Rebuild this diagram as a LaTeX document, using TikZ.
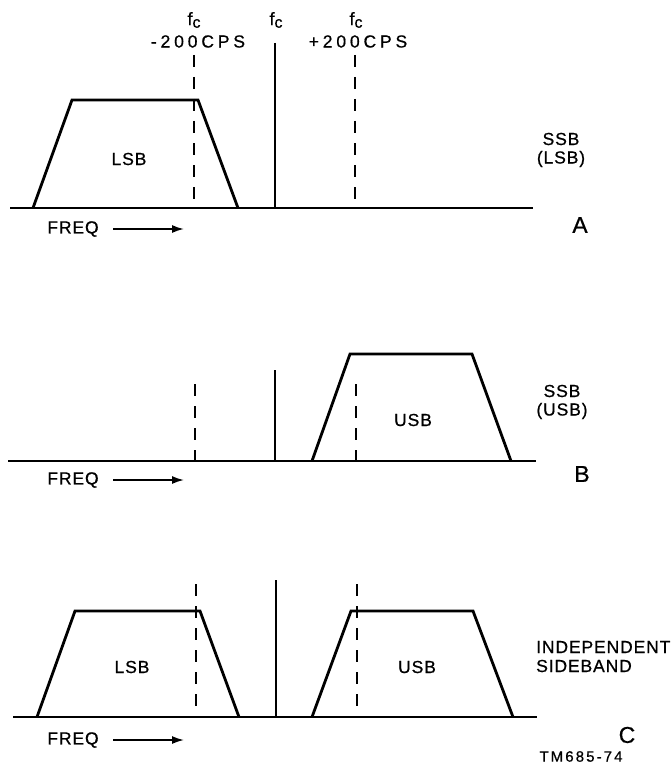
\documentclass[tikz,border=0pt]{standalone}
\usepackage{fontspec}
\setmainfont[LetterSpace=5,FakeBold=0.7]{Liberation Sans}
\newfontfamily\numfont[LetterSpace=22,FakeBold=0.7]{Liberation Sans}
\newfontfamily\tmfont[LetterSpace=14,FakeBold=0.6]{Liberation Sans}
\usetikzlibrary{arrows.meta}
\tikzset{
  axis/.style={line width=2.8pt},
  band/.style={line width=2.8pt, line join=miter},
  carrier/.style={line width=2.6pt},
  offset/.style={line width=2pt, dash pattern=on 12pt off 10pt},
  lbl/.style={font=\fontsize{17.5}{18}\selectfont, inner sep=0pt},
  numlbl/.style={font=\numfont\fontsize{17.5}{18}\selectfont, inner sep=0pt},
  tmlbl/.style={font=\tmfont\fontsize{15}{16}\selectfont, inner sep=0pt},
  panel/.style={font=\fontsize{23}{24}\selectfont, inner sep=0pt},
  freqarrow/.style={line width=1.7pt, -{Latex[length=12pt,width=8pt]}},
}
\newcommand{\fcl}{{\fontsize{18}{18}\selectfont f\raisebox{-2.5pt}{\fontsize{16}{16}\selectfont c}}}
\begin{document}
\begin{tikzpicture}[x=1pt,y=-1pt]
\useasboundingbox (0,0) rectangle (671,765);
% top labels
\node[lbl] (fl) at (194,20) {\fcl};
\node[lbl] (fm) at (276,20) {\fcl};
\node[lbl] (fr) at (356,20) {\fcl};
\node[numlbl] (ml) at (198,41.5) {-200CPS};
\node[numlbl] (pl) at (358,41.5) {+200CPS};

% ---- Panel A ----
\coordinate (a0) at (10,208); \coordinate (a1) at (533,208);
\draw[axis] (a0) -- (a1);
\coordinate (aL1) at (33,208); \coordinate (aL2) at (72,100);
\coordinate (aL3) at (198,100); \coordinate (aL4) at (238,208);
\draw[band] (aL1) -- (aL2) -- (aL3) -- (aL4);
\coordinate (ad1t) at (194,55); \coordinate (ad1b) at (194,208);
\coordinate (act) at (275,43); \coordinate (acb) at (275,208);
\coordinate (ad2t) at (355,55); \coordinate (ad2b) at (355,208);
\draw[offset] (ad1t) -- (ad1b);
\draw[carrier] (act) -- (acb);
\draw[offset] (ad2t) -- (ad2b);
\node[lbl] (alsb) at (129,159) {LSB};
\node[lbl] (assb1) at (561,139) {SSB};
\node[lbl] (assb2) at (561,159) {(LSB)};
\node[panel] (aA) at (580,225) {A};
\node[lbl] (afreq) at (73,229) {FREQ};
\coordinate (aas) at (113,229); \coordinate (aar) at (184,229);
\draw[freqarrow] (aas) -- (aar);

% ---- Panel B ----
\coordinate (b0) at (8,461); \coordinate (b1) at (536,461);
\draw[axis] (b0) -- (b1);
\coordinate (bU1) at (312,461); \coordinate (bU2) at (350,354);
\coordinate (bU3) at (472,354); \coordinate (bU4) at (511,461);
\draw[band] (bU1) -- (bU2) -- (bU3) -- (bU4);
\coordinate (bd1t) at (195,384); \coordinate (bd1b) at (195,461);
\coordinate (bct) at (275,370); \coordinate (bcb) at (275,461);
\coordinate (bd2t) at (356,384); \coordinate (bd2b) at (356,461);
\draw[offset] (bd1t) -- (bd1b);
\draw[carrier] (bct) -- (bcb);
\draw[offset] (bd2t) -- (bd2b);
\node[lbl] (busb) at (413,420) {USB};
\node[lbl] (bssb1) at (562,391) {SSB};
\node[lbl] (bssb2) at (562,411) {(USB)};
\node[panel] (bB) at (582,474) {B};
\node[lbl] (bfreq) at (73,480) {FREQ};
\coordinate (bas) at (113,480); \coordinate (bar) at (184,480);
\draw[freqarrow] (bas) -- (bar);

% ---- Panel C ----
\coordinate (c0) at (13,717); \coordinate (c1) at (537,717);
\draw[axis] (c0) -- (c1);
\coordinate (cL1) at (37,717); \coordinate (cL2) at (75,611);
\coordinate (cL3) at (200,611); \coordinate (cL4) at (239,717);
\draw[band] (cL1) -- (cL2) -- (cL3) -- (cL4);
\coordinate (cU1) at (312,717); \coordinate (cU2) at (351,611);
\coordinate (cU3) at (473,611); \coordinate (cU4) at (513,717);
\draw[band] (cU1) -- (cU2) -- (cU3) -- (cU4);
\coordinate (cd1t) at (196,584); \coordinate (cd1b) at (196,717);
\coordinate (cct) at (276,580); \coordinate (ccb) at (276,717);
\coordinate (cd2t) at (357,584); \coordinate (cd2b) at (357,717);
\draw[offset] (cd1t) -- (cd1b);
\draw[carrier] (cct) -- (ccb);
\draw[offset] (cd2t) -- (cd2b);
\node[lbl] (clsb) at (132,667) {LSB};
\node[lbl] (cusb) at (417,667) {USB};
\node[lbl,anchor=west] (cisb1) at (536,647) {INDEPENDENT};
\node[lbl,anchor=west] (cisb2) at (536,666) {SIDEBAND};
\node[panel] (cC) at (627,735) {C};
\node[lbl] (cfreq) at (73,740) {FREQ};
\coordinate (cas) at (113,740); \coordinate (car) at (184,740);
\draw[freqarrow] (cas) -- (car);
\node[tmlbl] (tm) at (581,756.5) {TM685-74};
\end{tikzpicture}
\end{document}
